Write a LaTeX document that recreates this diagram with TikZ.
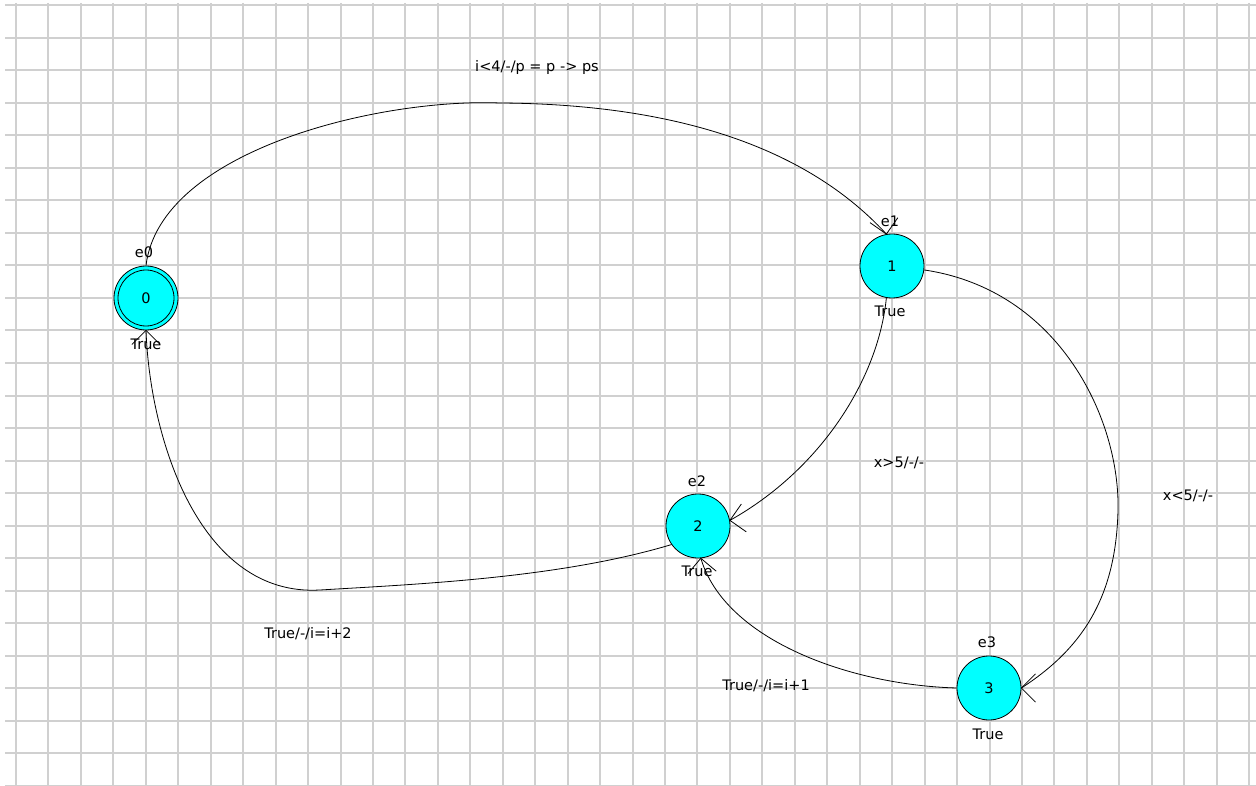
\documentclass[tikz,border=0pt]{standalone}
\usepackage{fontspec}
\setmainfont{DejaVu Sans}
\usetikzlibrary{calc}
\definecolor{gridc}{RGB}{208,208,208}
\definecolor{aqua}{RGB}{0,255,255}
\tikzset{
  state/.style={circle, draw=black, fill=aqua, line width=0.8pt, minimum size=64pt, inner sep=0pt, font=\fontsize{14.5}{16}\selectfont},
  lbl/.style={inner sep=0pt, font=\fontsize{14.5}{16}\selectfont},
  edge/.style={draw=black, line width=0.8pt},
  gridline/.style={draw=gridc, line width=2pt}
}
\newcommand{\vhead}[2]{\draw[edge] ($(#1)+(-#2+45:20)$) -- (#1) -- ($(#1)+(-#2-45:20)$);}
\begin{document}
\begin{tikzpicture}[x=1pt,y=-1pt]
\useasboundingbox (0,0) rectangle (1256,786);
\fill[white] (0,0) rectangle (1256,786);
% grid
\foreach \k in {0,...,38} { \draw[gridline] (16+32.45*\k,3) -- (16+32.45*\k,786); }
\foreach \k in {0,...,24} { \draw[gridline] (5,5.5+32.5*\k) -- (1256,5.5+32.5*\k); }
% states
\node[state] (n0) at (146,298) {0};
\draw[line width=0.8pt] (n0.center) circle[radius=28];
\node[state] (n1) at (892,266) {1};
\node[state] (n2) at (698,526) {2};
\node[state] (n3) at (989,688) {3};
% state labels
\node[lbl] (e0) at (144,252) {e0};
\node[lbl] (t0) at (146,344) {True};
\node[lbl] (e1) at (890,221) {e1};
\node[lbl] (t1) at (890,311) {True};
\node[lbl] (e2) at (697,481) {e2};
\node[lbl] (t2) at (697,571) {True};
\node[lbl] (e3) at (987,642) {e3};
\node[lbl] (t3) at (988,734) {True};
% edges
\draw[edge] (n0.north) .. controls (160,150) and (380,98) .. (500,103)
  .. controls (660,104) and (800,140) .. (n1.100);
\vhead{n1.100}{100}
\draw[edge] (n1.260) .. controls (878,380) and (820,470) .. (n2.10);
\vhead{n2.10}{10}
\draw[edge] (n1.-7) .. controls (1060,290) and (1120,420) .. (1118,510)
  .. controls (1116,600) and (1080,650) .. (n3.0);
\vhead{n3.0}{0}
\draw[edge] (n3.180) .. controls (850,685) and (725,640) .. (n2.-85);
\vhead{n2.-85}{-85}
\draw[edge] (n2.215) .. controls (560,578) and (420,584) .. (320,590)
  .. controls (200,597) and (150,440) .. (n0.south);
\vhead{n0.south}{-90}
% edge labels
\node[lbl] (l01) at (537,68) {i<4/-/p = p -> ps};
\node[lbl] (l12) at (899,463) {x>5/-/-};
\node[lbl] (l13) at (1188,496) {x<5/-/-};
\node[lbl] (l20) at (308,634) {True/-/i=i+2};
\node[lbl] (l32) at (766,686) {True/-/i=i+1};
\end{tikzpicture}
\end{document}
